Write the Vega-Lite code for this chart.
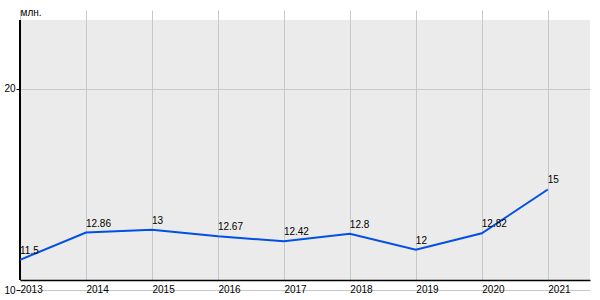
{
  "$schema": "https://vega.github.io/schema/vega-lite/v6.json",
  "width": 570,
  "height": 260,
  "autosize": "none",
  "padding": {"left": 20, "top": 20, "right": 10, "bottom": 20},
  "background": "white",
  "config": {
    "view": {"fill": "#ebebeb", "stroke": null},
    "font": "Liberation Sans",
    "axis": {
      "gridColor": "#c8c8c8",
      "gridWidth": 1,
      "domainColor": "black",
      "domainWidth": 1.5,
      "tickColor": "black",
      "labelColor": "black",
      "labelFontSize": 10,
      "labelFont": "Liberation Sans",
      "titleFont": "Liberation Sans",
      "titleFontWeight": "normal",
      "titleFontSize": 10,
      "titleColor": "black"
    }
  },
  "data": {
    "values": [
      {"year": 2013, "value": 11.5, "label": "11.5"},
      {"year": 2014, "value": 12.86, "label": "12.86"},
      {"year": 2015, "value": 13, "label": "13"},
      {"year": 2016, "value": 12.67, "label": "12.67"},
      {"year": 2017, "value": 12.42, "label": "12.42"},
      {"year": 2018, "value": 12.8, "label": "12.8"},
      {"year": 2019, "value": 12, "label": "12"},
      {"year": 2020, "value": 12.82, "label": "12.82"},
      {"year": 2021, "value": 15, "label": "15"}
    ]
  },
  "layer": [
    {
      "mark": {"type": "rule", "color": "black", "strokeWidth": 1.5},
      "encoding": {
        "x": {"datum": 2013, "type": "quantitative"},
        "y": {"datum": 10.5, "type": "quantitative"},
        "y2": {"datum": 23.43}
      }
    },
    {
      "mark": {"type": "line", "color": "#0050e6", "strokeWidth": 2, "clip": false},
      "encoding": {
        "x": {"field": "year", "type": "quantitative"},
        "y": {"field": "value", "type": "quantitative"}
      }
    },
    {
      "mark": {"type": "text", "align": "left", "baseline": "bottom", "dy": -4, "fontSize": 10, "color": "black"},
      "encoding": {
        "x": {"field": "year", "type": "quantitative"},
        "y": {"field": "value", "type": "quantitative"},
        "text": {"field": "label"}
      }
    }
  ],
  "encoding": {
    "x": {
      "field": "year",
      "type": "quantitative",
      "scale": {"domain": [2013, 2021.64], "nice": false, "zero": false},
      "axis": {
        "values": [2013, 2014, 2015, 2016, 2017, 2018, 2019, 2020, 2021],
        "format": "d",
        "title": null,
        "grid": true,
        "ticks": false,
        "labelAlign": "left",
        "labelPadding": 4,
        "labelFlush": false,
        "labelOverlap": false
      }
    },
    "y": {
      "field": "value",
      "type": "quantitative",
      "scale": {"domain": [10, 23.43], "range": [270, 0], "nice": false, "zero": false},
      "axis": {
        "values": [10, 20],
        "title": "млн.",
        "titleAngle": 0,
        "titleAlign": "left",
        "titleBaseline": "bottom",
        "titleX": 0,
        "titleY": -3,
        "domain": false,
        "grid": true,
        "tickSize": 4,
        "labelPadding": 1,
        "labelFlush": false,
        "labelOverlap": false
      }
    }
  }
}
